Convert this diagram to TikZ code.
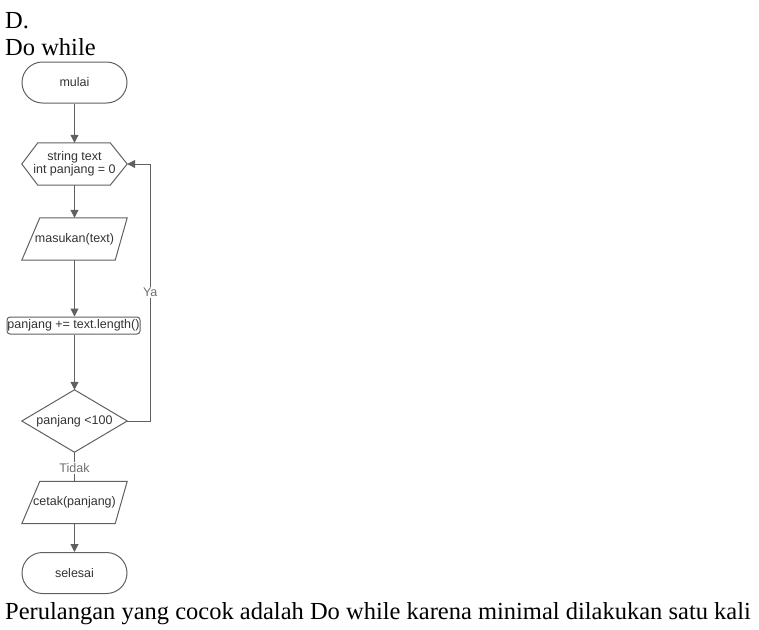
\documentclass[tikz,border=0pt]{standalone}
\usepackage{fontspec}
\setmainfont{Liberation Serif}
\newfontfamily\flowfont{Liberation Sans}
\usetikzlibrary{arrows.meta}
\definecolor{lineg}{HTML}{606060}
\definecolor{txtg}{HTML}{333333}
\definecolor{labg}{HTML}{707070}
\begin{document}
\begin{tikzpicture}[x=1pt,y=-1pt,
  big/.style={font=\fontsize{24.5}{27}\selectfont, inner sep=0pt, anchor=base west},
  ftext/.style={font=\flowfont\fontsize{12.5}{13.5}\selectfont, text=txtg, inner sep=0pt},
  terminal/.style={ftext, draw=lineg, line width=1pt, rounded corners=20.5pt, minimum width=105pt, minimum height=41pt},
  box/.style={ftext, minimum width=105pt, minimum height=42pt},
  procbox/.style={ftext, draw=lineg, line width=1pt, rounded corners=3pt, minimum width=133pt, minimum height=17pt},
  outline/.style={draw=lineg, line width=1pt, line join=miter},
  conn/.style={draw=lineg, line width=1pt, -{Triangle[length=8pt,width=8pt]}},
  plain/.style={draw=lineg, line width=1pt},
  lab/.style={font=\flowfont\fontsize{12.5}{13.5}\selectfont, text=labg, fill=white, inner sep=1.5pt}
]
\useasboundingbox (0,0) rectangle (759,629);

\node[big] (tD) at (5,28) {D.};
\node[big] (tDo) at (5,55) {Do while};

\node[terminal] (mulai) at (74.5,82.5) {mulai};
\node[box, align=center] (hex) at (74.5,164) {string text\\int panjang = 0};
\draw[outline] ([xshift=16pt]hex.north west) -- ([xshift=-17pt]hex.north east) -- (hex.east)
  -- ([xshift=-17pt]hex.south east) -- ([xshift=16pt]hex.south west) -- (hex.west) -- cycle;

\node[box] (masuk) at (74.5,239) {masukan(text)};
\draw[outline] ([xshift=18pt]masuk.north west) -- (masuk.north east)
  -- ([xshift=-12pt]masuk.south east) -- (masuk.south west) -- cycle;

\node[procbox] (proc) at (73.5,325.5) {panjang += text.length()};

\node[ftext, minimum width=105pt, minimum height=62pt] (dec) at (74.5,421) {panjang <100};
\draw[outline] (dec.north) -- (dec.east) -- (dec.south) -- (dec.west) -- cycle;

\node[box] (cetak) at (74.5,502.5) {cetak(panjang)};
\draw[outline] ([xshift=18pt]cetak.north west) -- (cetak.north east)
  -- ([xshift=-12pt]cetak.south east) -- (cetak.south west) -- cycle;

\node[terminal] (selesai) at (74.5,573) {selesai};

\draw[conn] (mulai.south) -- (hex.north);
\draw[conn] (hex.south) -- (masuk.north);
\draw[conn] (masuk.south) -- (proc.north -| masuk.south);
\draw[conn] (proc.south -| dec.north) -- (dec.north);
\draw[conn] (dec.east) -- ++(23,0) |- node[lab, pos=0.25] {Ya} (hex.east);
\draw[plain] (dec.south) -- node[lab, pos=0.55] {Tidak} (cetak.north);
\draw[conn] (cetak.south) -- (selesai.north);

\node[big] (concl) at (5,619) {Perulangan yang cocok adalah Do while karena minimal dilakukan satu kali};
\end{tikzpicture}
\end{document}
